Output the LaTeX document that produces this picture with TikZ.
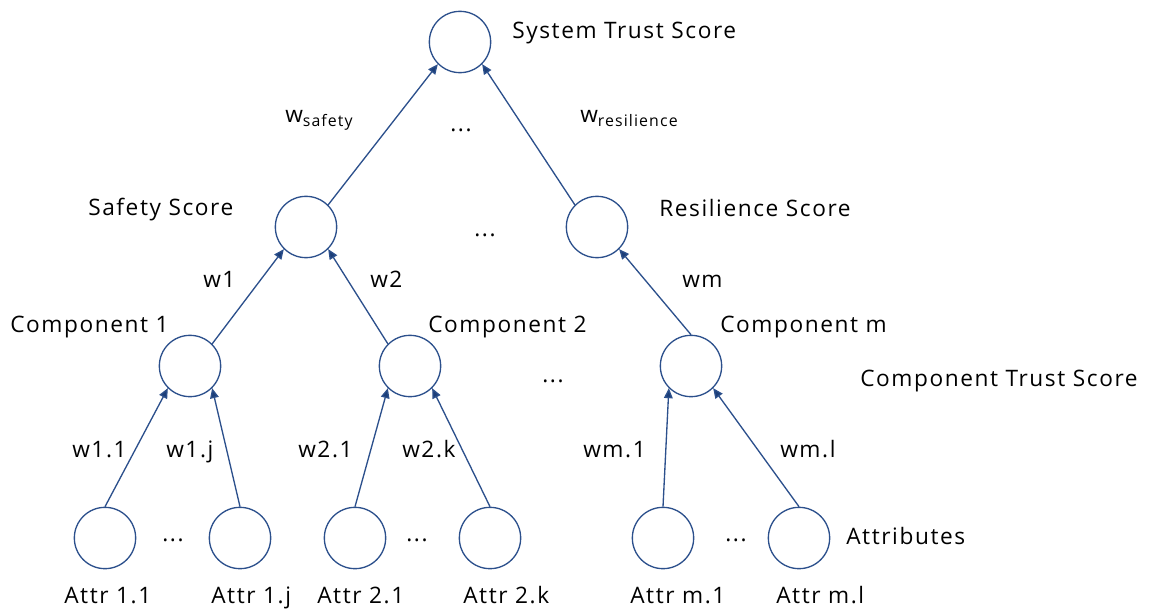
\documentclass[tikz,border=0pt]{standalone}
\usepackage{fontspec}
\setmainfont{Open Sans}[LetterSpace=7]
\usetikzlibrary{arrows.meta}
\definecolor{nodeblue}{RGB}{44,80,140}
\definecolor{tipblue}{RGB}{28,62,120}
\tikzset{
  tnode/.style={circle, draw=nodeblue, line width=1pt, minimum size=46pt, inner sep=0pt},
  lbl/.style={anchor=base west, inner sep=0pt, font=\fontsize{17}{20}\selectfont, text=black},
  dots/.style={anchor=base, inner sep=0pt, font=\fontsize{17}{20}\selectfont, text=black},
  conn/.style={draw=nodeblue, line width=1pt, -{Triangle[length=7.5pt,width=6.5pt,fill=tipblue]}}
}
\begin{document}
\begin{tikzpicture}[x=0.75pt,y=-0.75pt]
\useasboundingbox (0,0) rectangle (1151,610);
% nodes
\node[tnode] (top) at (460,42) {};
\node[tnode] (saf) at (306,227) {};
\node[tnode] (res) at (597,227) {};
\node[tnode] (c1) at (190,366) {};
\node[tnode] (c2) at (410,366) {};
\node[tnode] (cm) at (691,366) {};
\node[tnode] (a11) at (105,538) {};
\node[tnode] (a1j) at (240,538) {};
\node[tnode] (a21) at (355,538) {};
\node[tnode] (a2k) at (490,538) {};
\node[tnode] (am1) at (663,538) {};
\node[tnode] (aml) at (799,538) {};
% connectors
\draw[conn] (saf.north east) -- (top.south west);
\draw[conn] (res.north west) -- (top.south east);
\draw[conn] (c1.north east) -- (saf.south west);
\draw[conn] (c2.north west) -- (saf.south east);
\draw[conn] (cm.north) -- (res.south east);
\draw[conn] (a11.north) -- (c1.south west);
\draw[conn] (a1j.north) -- (c1.south east);
\draw[conn] (a21.north) -- (c2.south west);
\draw[conn] (a2k.north) -- (c2.south east);
\draw[conn] (am1.north) -- (cm.south west);
\draw[conn] (aml.north) -- (cm.south east);
% labels
\node[lbl] (tsys) at (512,39) {System Trust Score};
\node[lbl] (twsaf) at (285,122) {w\textsubscript{safety}};
\node[lbl] (twres) at (580,122) {w\textsubscript{resilience}};
\node[dots] (d1) at (461,131) {...};
\node[lbl] (tsaf) at (88,215) {Safety Score};
\node[lbl] (tres) at (659,216) {Resilience Score};
\node[dots] (d2) at (485,236) {...};
\node[lbl] (tw1) at (203,287) {w1};
\node[lbl] (tw2) at (370,287) {w2};
\node[lbl] (twm) at (682,287) {wm};
\node[lbl] (tc1) at (10,332) {Component 1};
\node[lbl] (tc2) at (428,332) {Component 2};
\node[lbl] (tcm) at (720,332) {Component m};
\node[dots] (d3) at (553,382) {...};
\node[lbl] (tcts) at (860,386) {Component Trust Score};
\node[lbl] (tw11) at (72,457) {w1.1};
\node[lbl] (tw1j) at (166,457) {w1.j};
\node[lbl] (tw21) at (298,457) {w2.1};
\node[lbl] (tw2k) at (402,457) {w2.k};
\node[lbl] (twm1) at (583,457) {wm.1};
\node[lbl] (twml) at (780,457) {wm.l};
\node[dots] (d4) at (173,541) {...};
\node[dots] (d5) at (417,541) {...};
\node[dots] (d6) at (736,541) {...};
\node[lbl] (tattr) at (846,544) {Attributes};
\node[lbl] (ta11) at (64,603) {Attr 1.1};
\node[lbl] (ta1j) at (211,603) {Attr 1.j};
\node[lbl] (ta21) at (317,603) {Attr 2.1};
\node[lbl] (ta2k) at (463,603) {Attr 2.k};
\node[lbl] (tam1) at (630,603) {Attr m.1};
\node[lbl] (taml) at (776,603) {Attr m.l};
\end{tikzpicture}
\end{document}
